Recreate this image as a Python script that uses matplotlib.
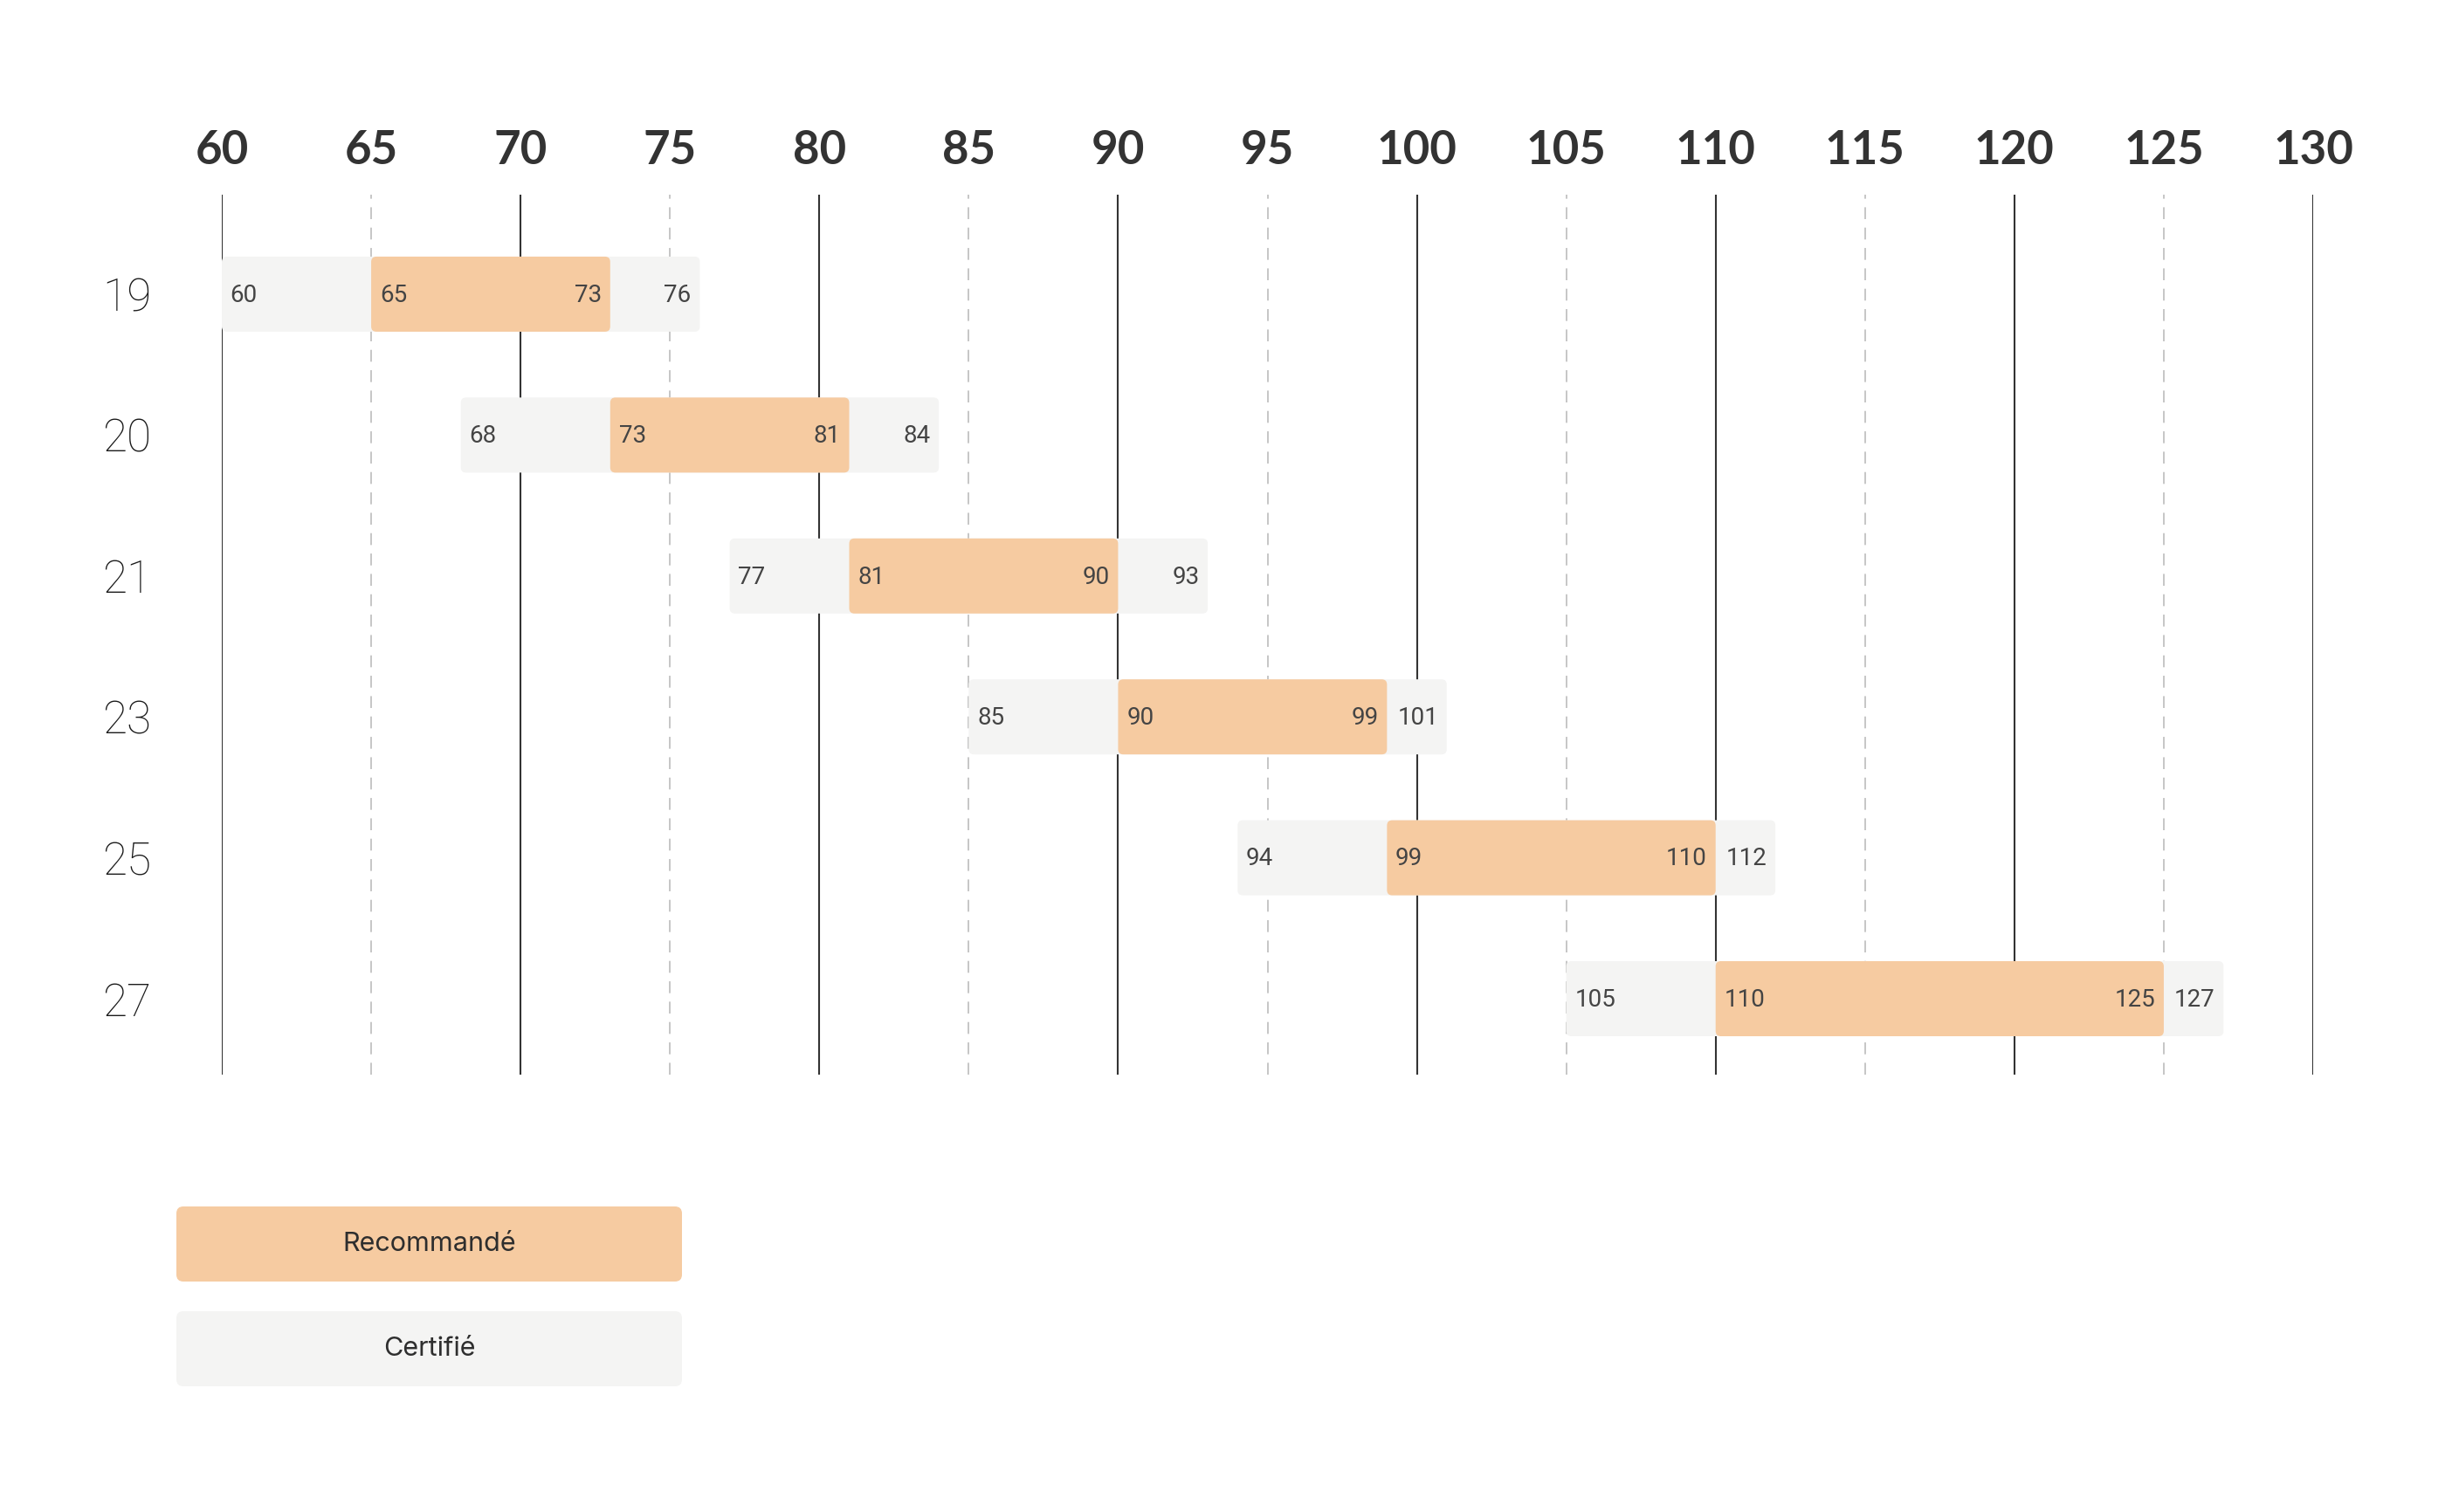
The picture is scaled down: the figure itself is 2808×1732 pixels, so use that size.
import matplotlib
matplotlib.use("Agg")
import matplotlib.pyplot as plt
from matplotlib.patches import FancyBboxPatch

# ---- data ----
sizes = ["19", "20", "21", "23", "25", "27"]
certified_min = [60, 68, 77, 85, 94, 105]
certified_max = [76, 84, 93, 101, 112, 127]
recommended_min = [65, 73, 81, 90, 99, 110]
recommended_max = [73, 81, 90, 99, 110, 125]
x_ticks = list(range(60, 131, 5))
legend_labels = ["Recommandé", "Certifié"]

# ---- style ----
ORANGE = "#F6CBA1"
GREY = "#F4F4F3"
TEXT = "#2E2E2E"
FONT = ["Lato", "DejaVu Sans"]
THIN = ["Roboto", "DejaVu Sans"]
LEGF = ["Inter", "DejaVu Sans"]
plt.rcParams["font.family"] = FONT

W, H = 2808, 1732
fig = plt.figure(figsize=(W / 100, H / 100), dpi=100)
fig.patch.set_facecolor("white")

# axes placement (pixel based)
ax_left, ax_right = 254, 2649
ax_top, ax_bot = 223, 1231
ax = fig.add_axes([ax_left / W, 1 - ax_bot / H, (ax_right - ax_left) / W, (ax_bot - ax_top) / H])
ax.set_xlim(60, 130)
ax.set_ylim(5.539, -0.706)
for s in ax.spines.values():
    s.set_visible(False)

# grid lines
for t in x_ticks:
    if t % 10 == 0:
        ax.axvline(t, color="#333333", lw=1.5, zorder=1)
    else:
        ax.axvline(t, color="#C6C6C6", lw=1.4, dashes=(7, 5), zorder=1)

# ticks
ax.xaxis.tick_top()
ax.set_xticks(x_ticks)
ax.set_xticklabels([str(t) for t in x_ticks], fontsize=38, fontweight="bold", color="#333333")
ax.tick_params(axis="x", length=0, pad=19)
ax.set_yticks(range(len(sizes)))
ax.set_yticklabels(sizes, fontsize=37, fontweight="light", color="#1A1A1A", family=THIN)
ax.tick_params(axis="y", length=0, pad=58)

# bars
px_per_x = (ax_right - ax_left) / 70.0
px_per_y = (ax_bot - ax_top) / (5.539 + 0.706)
radius_px = 6
rx = radius_px / px_per_x
aspect = (radius_px / px_per_y) / rx
bar_h = 86 / px_per_y


def rbar(x0, x1, y, color, z):
    p = FancyBboxPatch((x0, y - bar_h / 2), x1 - x0, bar_h,
                       boxstyle=f"round,pad=0,rounding_size={rx}",
                       mutation_aspect=aspect, facecolor=color,
                       edgecolor="none", zorder=z)
    ax.add_patch(p)


def lab(v, y, side):
    off = 7 if side == "left" else -7
    ax.annotate(str(v), xy=(v, y), xytext=(off, -1), textcoords="offset points",
                ha=side, va="center", fontsize=20, fontweight="normal",
                family=THIN, color="#444444", zorder=5)


for i in range(len(sizes)):
    rbar(certified_min[i], certified_max[i], i, GREY, 2)
    rbar(recommended_min[i], recommended_max[i], i, ORANGE, 3)
    lab(certified_min[i], i, "left")
    lab(certified_max[i], i, "right")
    lab(recommended_min[i], i, "left")
    lab(recommended_max[i], i, "right")

# legend in pixel coordinates
lax = fig.add_axes([0, 0, 1, 1], zorder=-1)
lax.set_xlim(0, W)
lax.set_ylim(H, 0)
lax.axis("off")
leg_colors = [ORANGE, GREY]
leg_tops = [1382, 1502]
for lbl, col, top in zip(legend_labels, leg_colors, leg_tops):
    lax.add_patch(FancyBboxPatch((202, top), 579, 86,
                                 boxstyle="round,pad=0,rounding_size=8",
                                 facecolor=col, edgecolor="none"))
    lax.text(202 + 579 / 2, top + 43, lbl, ha="center", va="center",
             fontsize=22, color=TEXT, family=LEGF)

fig.savefig("out.png", dpi=100, facecolor="white")
